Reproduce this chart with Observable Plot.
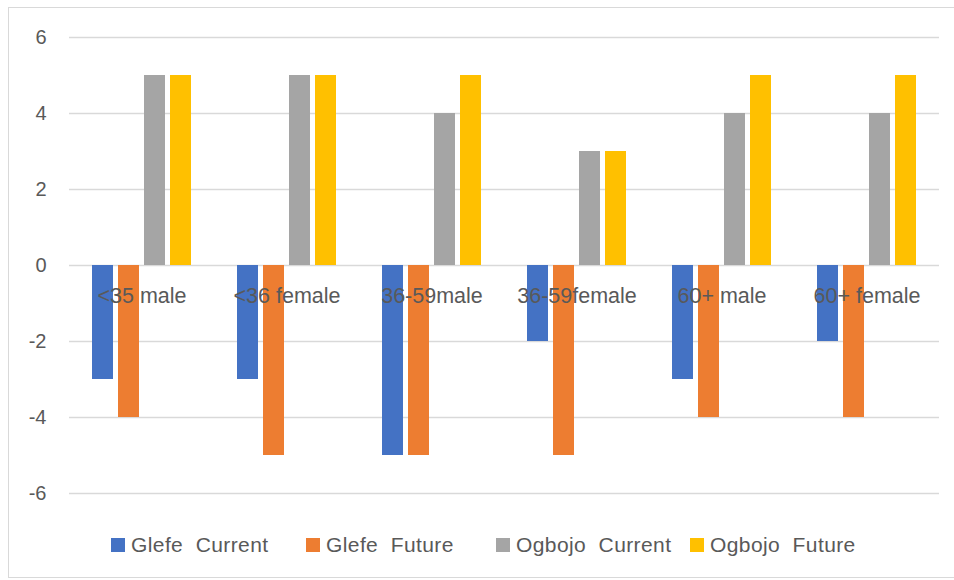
<!DOCTYPE html>
<html>
<head>
<meta charset="utf-8">
<script src="https://cdn.jsdelivr.net/npm/d3@7"></script>
<script src="https://cdn.jsdelivr.net/npm/@observablehq/plot@0.6"></script>
<style>
  html, body { margin: 0; padding: 0; background: #fff; }
  #wrap { position: relative; width: 954px; height: 580px; overflow: hidden; font-family: "Liberation Sans", Arial, sans-serif; }
  #frame { position: absolute; left: 8px; top: 7px; width: 960px; height: 571px; border: 1px solid #d9d9d9; box-sizing: border-box; }
  #chart { position: absolute; left: 0; top: 0; }
  #legend { position: absolute; left: 0; top: 532px; width: 954px; height: 26px; color: #595959; font-size: 21px; letter-spacing: 0.4px; }
  .item { position: absolute; top: 0; display: flex; align-items: center; white-space: pre; height: 26px; }
  .sw { width: 14px; height: 14px; margin-right: 6px; }
</style>
</head>
<body>
<div id="wrap">
  <div id="frame"></div>
  <div id="chart"></div>
  <div id="legend"></div>
</div>
<script>
const categories = ["<35 male", "<36 female", "36-59male", "36-59female", "60+ male", "60+ female"];
const seriesNames = ["Glefe  Current", "Glefe  Future", "Ogbojo  Current", "Ogbojo  Future"];
const glefeCurrent = [-3, -3, -5, -2, -3, -2];
const glefeFuture = [-4, -5, -5, -5, -4, -4];
const ogbojoCurrent = [5, 5, 4, 3, 4, 4];
const ogbojoFuture = [5, 5, 5, 3, 5, 5];
const yTicks = [-6, -4, -2, 0, 2, 4, 6];
const colors = ["#4472C4", "#ED7D31", "#A5A5A5", "#FFC000"];
const legendLeft = [111, 306, 496, 690];

const seriesValues = [glefeCurrent, glefeFuture, ogbojoCurrent, ogbojoFuture];
const data = [];
categories.forEach((c, i) => {
  seriesNames.forEach((s, j) => data.push({category: c, series: s, value: seriesValues[j][i]}));
});

const chart = Plot.plot({
  width: 954,
  height: 510,
  marginLeft: 68,
  marginRight: 14,
  marginTop: 37,
  marginBottom: 17,
  style: {fontFamily: "Liberation Sans, Arial, sans-serif", fontSize: "20px", color: "#595959", background: "transparent"},
  fx: {domain: categories, padding: 0, axis: null},
  x: {domain: seriesNames, paddingInner: 0.2, paddingOuter: 0.86, axis: null},
  y: {domain: [-6, 6], ticks: yTicks, tickSize: 0, tickPadding: 23, label: null, tickFormat: d => d < 0 ? "-" + Math.abs(d) : String(d)},
  color: {domain: seriesNames, range: colors},
  marks: [
    Plot.gridY(yTicks, {stroke: "#d9d9d9", strokeOpacity: 1, strokeWidth: 1.5, facetAnchor: null}),
    Plot.barY(data, {fx: "category", x: "series", y: "value", fill: "series"}),
    Plot.text(categories, {fx: d => d, y: () => 0, text: d => d, dy: 31, fontSize: 21.5, fill: "#595959"})
  ]
});
document.getElementById("chart").appendChild(chart);

const legend = document.getElementById("legend");
seriesNames.forEach((s, j) => {
  const it = document.createElement("div");
  it.className = "item";
  it.style.left = legendLeft[j] + "px";
  const sw = document.createElement("div");
  sw.className = "sw";
  sw.style.background = colors[j];
  const tx = document.createElement("span");
  tx.textContent = s;
  it.appendChild(sw);
  it.appendChild(tx);
  legend.appendChild(it);
});
</script>
</body>
</html>
